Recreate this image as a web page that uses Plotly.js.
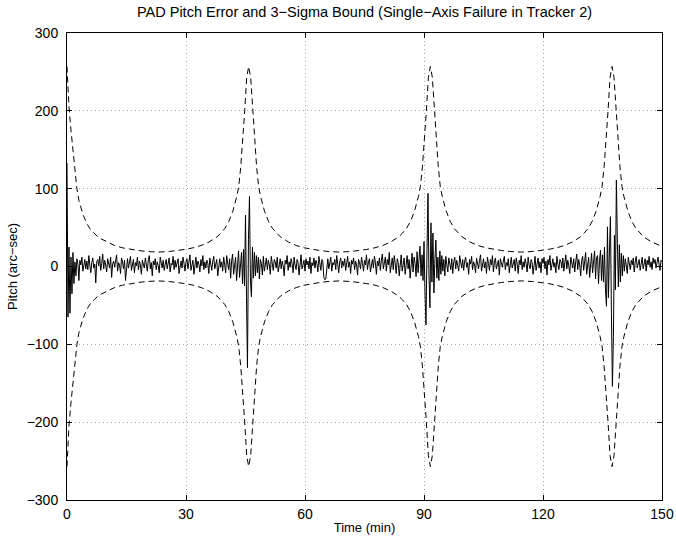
<!DOCTYPE html>
<html>
<head>
<meta charset="utf-8">
<script src="https://cdn.plot.ly/plotly-3.0.1.min.js"></script>
<style>html,body{margin:0;padding:0;background:#fff;}#chart{width:676px;height:543px;}</style>
</head>
<body>
<div id="chart"></div>
<script>
// ---- Data ----
const chartTitle = "PAD Pitch Error and 3\u2212Sigma Bound (Single\u2212Axis Failure in Tracker 2)";
const xAxisTitle = "Time (min)";
const yAxisTitle = "Pitch (arc\u2212sec)";
const xTickValues = [0, 30, 60, 90, 120, 150];
const yTickValues = [-300, -200, -100, 0, 100, 200, 300];

// pitch error sampled every quarter minute, starting at t = 0
const errorStartMin = 0;
const errorStepMin = 0.25;
const pitchError = [
  133, -65, 25, -60, 12, -35, 18, -22, 6, -12, 10, 3, -18, 8, 2, 12, -6, 4, 9, -3,
  7, -4, 14, 2, -8, 5, 11, -2, 3, -21, 6, 9, 1, 13, -5, 4, 16, -3, 8, 2,
  -7, 10, 4, -2, 12, -14, 3, 7, -1, 9, 15, -6, 5, 2, -9, 11, 6, -3, 8, -18,
  4, 10, -2, 6, 13, -5, 3, 9, -8, 5, 1, 12, -4, 7, 2, -10, 8, 4, -2, 11,
  3, -6, 9, 14, -3, 5, -12, 7, 2, 10, -4, 6, 1, -8, 12, 4, -2, 8, -5, 3,
  9, -3, 6, 11, -7, 4, 2, 13, -4, 8, -1, 5, 10, -9, 3, 7, -2, 12, 4, -6,
  6, 10, -3, 4, 15, -5, 2, 8, -10, 5, 12, -2, 7, 3, -7, 9, 1, 14, -4, 6,
  -2, 8, 4, -9, 11, 3, -5, 7, 13, -3, 5, 9, -12, 4, 10, -1, 6, -6, 12, 2,
  -8, 14, 3, -4, 10, -15, 7, 16, -10, 5, 12, -18, 8, 20, -14, 6, 18, -22, 22, -25,
  66, -40, -130, 35, 90, -20, -39, 25, -15, 18, -12, 14, -8, 12, -16, 9, 4, -11, 13, -6,
  5, 11, -4, 8, 2, -10, 13, 3, -5, 9, 6, -2, 12, -7, 4, 10, -3, 7, 1, -12,
  8, 3, 14, -5, 6, -1, 10, 4, -8, 12, 2, -4, 9, 5, -11, 7, 15, -3, 4, 8,
  -6, 10, 2, 7, -3, 12, -9, 5, 1, 11, -2, 8, 4, -7, 13, 3, -5, 9, 6, -14,
  -17, -16, 4, 10, -3, 7, 12, -6, 5, 2, 9, -4, 14, 3, -8, 6, 11, -2, 7, 1,
  10, -5, 4, 13, -1, 6, -9, 8, 3, 11, -4, 7, 2, -11, 9, 5, -3, 12, 4, -6,
  8, 2, 15, -4, 6, 10, -7, 3, 9, -2, 13, 5, -10, 7, 1, 11, -5, 8, 16, -3,
  4, 12, -6, 9, 2, 18, -8, 6, 11, -4, 14, 3, -9, 10, 5, -12, 8, 15, -6, 4,
  11, -10, 7, 14, -3, 9, -15, 6, 17, -7, 12, 4, -13, 19, -8, 10, 26, -12, 15, -18,
  32, -34, -75, 20, 94, -10, -53, 56, -20, 43, -34, 10, 34, -15, 12, -18, 20, -10, 14, -6,
  9, -12, 13, 2, -7, 11, 5, -4, 10, -9, 6, 12, -3, 8, 1, -6, 14, 4, -2, 9,
  -5, 7, 12, -1, 5, -10, 9, 3, 13, -4, 6, 2, -8, 11, 4, -3, 8, 15, -6, 5,
  10, -2, 6, -9, 12, 4, -5, 9, 2, 14, -7, 6, 11, -3, 3, 8, -11, 10, 5, -1,
  7, 13, -4, 5, 1, 10, -8, 6, 12, -2, 4, 9, -6, 11, 3, -9, 8, 2, 14, -4,
  6, -1, 10, 4, -7, 12, 2, -3, 9, 5, -10, 8, 13, -5, 3, 11, -2, 6, -8, 10,
  4, 12, -3, 7, -11, 9, 2, 14, -5, 6, 10, -1, 5, -8, 13, 3, -4, 9, 7, -2,
  11, -6, 5, 15, -3, 8, 1, -9, 12, 4, -2, 10, -7, 6, 16, -4, 9, 2, -12, 8,
  13, -5, 7, 18, -10, 6, 12, -14, 9, 17, -8, 4, 20, -16, 11, 14, -22, 8, 21, -18,
  15, -20, 25, -30, -51, 51, -40, 20, 64, -60, -154, -90, 40, -30, 111, 30, -26, 28, -20, 17,
  -12, 14, -6, 10, 3, -9, 12, 5, -4, 8, 2, 11, -7, 6, 13, -2, 4, 9, -5, 7,
  12, -3, 5, 10, -6, 8, 2, 13, -1, 6, -4, 11, 4, 9, -2, 7, 12, 3, -5, 8,
  6
];

// 3-sigma bound (arc-sec) vs time (min)
const boundTime = [
  0, 0.5, 1, 1.5, 2, 2.5, 3, 4, 5, 6, 7, 8, 10, 12, 14, 16, 18, 20, 22.9,
  25.8, 27.8, 29.8, 31.8, 33.8, 35.8, 37.8, 38.8, 39.8, 40.8, 41.8, 42.8, 43.3, 43.8, 44.3, 44.8, 45.3, 45.8,
  46.3, 46.8, 47.3, 47.8, 48.3, 48.8, 49.8, 50.8, 51.8, 52.8, 53.8, 55.8, 57.8, 59.8, 61.8, 63.8, 65.8, 68.7,
  71.6, 73.6, 75.6, 77.6, 79.6, 81.6, 83.6, 84.6, 85.6, 86.6, 87.6, 88.6, 89.1, 89.6, 90.1, 90.6, 91.1, 91.6,
  92.1, 92.6, 93.1, 93.6, 94.1, 94.6, 95.6, 96.6, 97.6, 98.6, 99.6, 101.6, 103.6, 105.6, 107.6, 109.6, 111.6, 114.5,
  117.4, 119.4, 121.4, 123.4, 125.4, 127.4, 129.4, 130.4, 131.4, 132.4, 133.4, 134.4, 134.9, 135.4, 135.9, 136.4, 136.9, 137.4,
  137.9, 138.4, 138.9, 139.4, 139.9, 140.4, 141.4, 142.4, 143.4, 144.4, 145.4, 147.4, 149.4, 150
];
const upperBound = [
  257, 205, 175, 150, 120, 100, 85, 67, 55, 47, 42, 37, 32, 27, 24, 22, 20.5, 19.3, 18.5,
  19.3, 20.5, 22, 24, 27, 31.5, 38, 43, 49, 58, 71, 90, 103, 128, 160, 200, 243, 257,
  243, 200, 160, 128, 103, 90, 71, 58, 49, 43, 38, 31.5, 27, 24, 22, 20.5, 19.3, 18.5,
  19.3, 20.5, 22, 24, 27, 31.5, 38, 43, 49, 58, 71, 90, 103, 128, 160, 200, 243, 257,
  243, 200, 160, 128, 103, 90, 71, 58, 49, 43, 38, 31.5, 27, 24, 22, 20.5, 19.3, 18.5,
  19.3, 20.5, 22, 24, 27, 31.5, 38, 43, 49, 58, 71, 90, 103, 128, 160, 200, 243, 257,
  243, 200, 160, 128, 103, 90, 71, 58, 49, 43, 38, 31.5, 27, 25.8
];
const lowerBound = [
  -257, -205, -175, -150, -120, -100, -85, -67, -55, -47, -42, -37, -32, -27, -24, -22, -20.5, -19.3, -18.5,
  -19.3, -20.5, -22, -24, -27, -31.5, -38, -43, -49, -58, -71, -90, -103, -128, -160, -200, -243, -257,
  -243, -200, -160, -128, -103, -90, -71, -58, -49, -43, -38, -31.5, -27, -24, -22, -20.5, -19.3, -18.5,
  -19.3, -20.5, -22, -24, -27, -31.5, -38, -43, -49, -58, -71, -90, -103, -128, -160, -200, -243, -257,
  -243, -200, -160, -128, -103, -90, -71, -58, -49, -43, -38, -31.5, -27, -24, -22, -20.5, -19.3, -18.5,
  -19.3, -20.5, -22, -24, -27, -31.5, -38, -43, -49, -58, -71, -90, -103, -128, -160, -200, -243, -257,
  -243, -200, -160, -128, -103, -90, -71, -58, -49, -43, -38, -31.5, -27, -25.8
];

// ---- Chart ----
const fontFamily = "Liberation Sans, Arial, Helvetica, sans-serif";
const dashStyle = "6px,4px";

const traces = [
  {
    type: "scatter", mode: "lines",
    x0: errorStartMin, dx: errorStepMin, y: pitchError,
    line: {color: "#000", width: 1},
    hoverinfo: "skip", showlegend: false
  },
  {
    type: "scatter", mode: "lines",
    x: boundTime, y: upperBound,
    line: {color: "#000", width: 1, dash: dashStyle},
    hoverinfo: "skip", showlegend: false
  },
  {
    type: "scatter", mode: "lines",
    x: boundTime, y: lowerBound,
    line: {color: "#000", width: 1, dash: dashStyle},
    hoverinfo: "skip", showlegend: false
  }
];

const axisCommon = {
  showline: true, linecolor: "#000", linewidth: 1, mirror: "ticks",
  ticks: "inside", ticklen: 5, tickcolor: "#000", tickwidth: 1,
  showgrid: true, gridcolor: "#a8a8a8", gridwidth: 1, griddash: "1px,3px",
  zeroline: false,
  tickfont: {family: fontFamily, size: 14, color: "#000"}
};

const layout = {
  width: 676, height: 543,
  margin: {l: 67, r: 14, t: 33, b: 43, pad: 0},
  paper_bgcolor: "#fff", plot_bgcolor: "#fff",
  font: {family: fontFamily, size: 12, color: "#000"},
  title: {
    text: chartTitle,
    font: {family: fontFamily, size: 14.5, color: "#000"},
    x: 0.5, xref: "paper", xanchor: "center",
    y: 1 - 12 / 543, yref: "container", yanchor: "middle"
  },
  xaxis: Object.assign({}, axisCommon, {
    range: [0, 150], tickmode: "array", tickvals: xTickValues,
    ticklabelstandoff: 1,
    title: {text: xAxisTitle, font: {family: fontFamily, size: 13, color: "#000"}, standoff: 2}
  }),
  yaxis: Object.assign({}, axisCommon, {
    range: [-300, 300], tickmode: "array", tickvals: yTickValues,
    ticklabelstandoff: 5,
    title: {text: yAxisTitle, font: {family: fontFamily, size: 13, color: "#000"}, standoff: 6}
  }),
  showlegend: false
};

Plotly.newPlot("chart", traces, layout, {staticPlot: true, displayModeBar: false});
</script>
</body>
</html>
